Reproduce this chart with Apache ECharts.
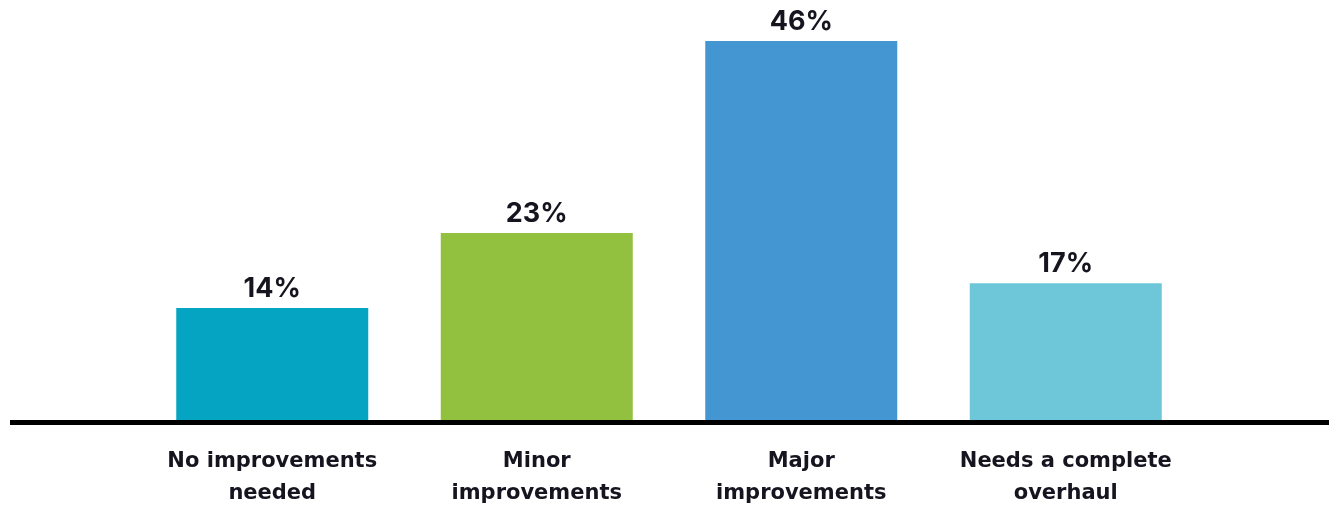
<!DOCTYPE html>
<html>
<head>
<meta charset="utf-8">
<style>
  html, body { margin: 0; padding: 0; background: #fff; }
  #chart { width: 1329px; height: 506px; }
</style>
<script src="https://cdn.jsdelivr.net/npm/echarts@6/dist/echarts.min.js"></script>
</head>
<body>
<div id="chart"></div>
<script>
// categories and values
var categories = ['No improvements\nneeded', 'Minor\nimprovements', 'Major\nimprovements', 'Needs a complete\noverhaul'];
var values = [13.6, 22.7, 46, 16.6];
var barColors = ['#05a4c2', '#92c13f', '#4396d2', '#6dc7d9'];

var textColor = '#15141f';
var chart = echarts.init(document.getElementById('chart'));

var option = {
	animation: false,
	grid: {
		left: 140,
		right: 131,
		top: 8,
		bottom: 86,
		outerBoundsMode: 'none',
		containLabel: false
	},
	xAxis: {
		type: 'category',
		data: categories,
		axisLine: { show: false },
		axisTick: { show: false },
		axisLabel: {
			margin: 26,
			interval: 0,
			fontFamily: 'DejaVu Sans',
			fontWeight: 'bold',
			fontSize: 21,
			lineHeight: 32,
			color: textColor
		}
	},
	yAxis: {
		type: 'value',
		min: 0,
		max: 50,
		show: false,
		splitLine: { show: false }
	},
	// baseline runs wider than the plot area
	graphic: [{
		type: 'rect',
		shape: { x: 10, y: 420, width: 1319, height: 5 },
		style: { fill: '#000' },
		z: 10
	}],
	series: [{
		type: 'bar',
		barWidth: 192,
		data: values.map(function(v, i){
			return { value: v, itemStyle: { color: barColors[i] } };
		}),
		label: {
			show: true,
			position: 'top',
			distance: 6,
			fontFamily: 'Inter',
			fontWeight: 'bold',
			fontSize: 27,
			color: textColor,
			formatter: function(p){
				return Math.round(p.value) + '%';
			}
		}
	}]
};
chart.setOption(option);
</script>
</body>
</html>
